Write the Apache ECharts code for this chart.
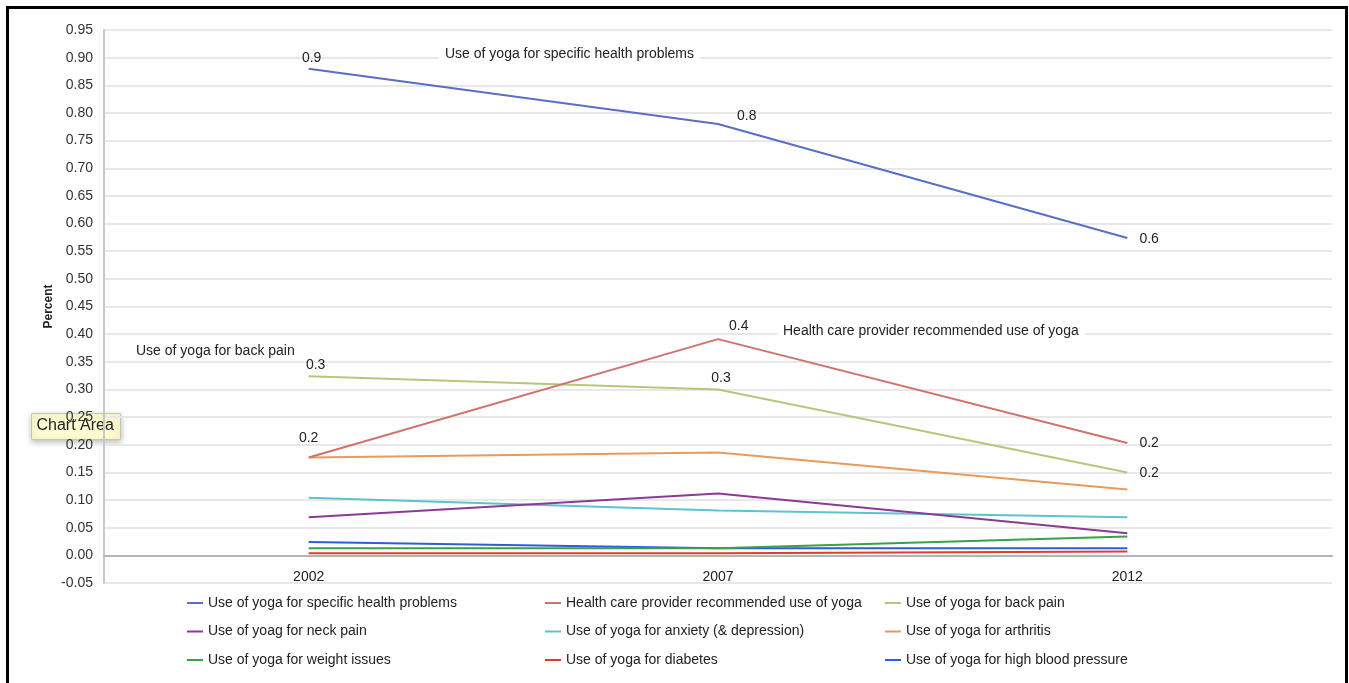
<!DOCTYPE html>
<html>
<head>
<meta charset="utf-8">
<script src="https://cdn.jsdelivr.net/npm/echarts@6/dist/echarts.min.js"></script>
<style>
  html, body { margin: 0; padding: 0; background: #fff; }
  #main { width: 1349px; height: 683px; }
</style>
</head>
<body>
<div id="main"></div>
<script>
// years on the x axis
var years = ['2002', '2007', '2012'];

// series names (legend order, as in the source)
var names = [
  'Use of yoga for specific health problems',
  'Health care provider recommended use of yoga',
  'Use of yoga for back pain',
  'Use of yoag for neck pain',
  'Use of yoga for anxiety (& depression)',
  'Use of yoga for arthritis',
  'Use of yoga for weight issues',
  'Use of yoga for diabetes',
  'Use of yoga for high blood pressure'
];

// values
var specificHealth = [0.88, 0.78, 0.574];
var providerRecommended = [0.177, 0.391, 0.203];
var backPain = [0.324, 0.30, 0.15];
var neckPain = [0.069, 0.112, 0.040];
var anxiety = [0.104, 0.081, 0.069];
var arthritis = [0.177, 0.186, 0.119];
var weightIssues = [0.013, 0.013, 0.034];
var diabetes = [0.004, 0.004, 0.007];
var highBloodPressure = [0.024, 0.013, 0.013];

var values = [specificHealth, providerRecommended, backPain, neckPain, anxiety,
  arthritis, weightIssues, diabetes, highBloodPressure];

var colors = ['#5a6ec8', '#d0726d', '#b3c97a', '#8b3a96', '#5cc3d0',
  '#e89a5c', '#3aa04a', '#e63a2e', '#2b5fd9'];

// data label placement for the three labelled series: [position, dx, dy, distance]
var labelPos = {
  0: [['top', 3, 0, 4], ['right', 0, -8, 19], ['right', 0, 1, 12]],
  1: [['top', 0, 0, 12], ['right', 0, -13, 11], ['right', 0, 0, 12]],
  2: [['top', 7, 0, 4], ['top', 3, 0, 4], ['right', 0, 1, 12]]
};

var FONT = 'Liberation Sans, Arial, sans-serif';

function fmt1(v) {
  return (Math.round(v * 10) / 10).toFixed(1);
}

var series = names.map(function (n, i) {
  var data = values[i].map(function (v, j) {
    var item = { value: v };
    if (labelPos[i]) {
      var p = labelPos[i][j];
      item.label = {
        show: true,
        position: p[0],
        offset: [p[1], p[2]],
        distance: p[3],
        formatter: function (params) { return fmt1(params.value); },
        color: '#222',
        fontSize: 14,
        fontFamily: FONT
      };
    }
    return item;
  });
  return {
    name: n,
    type: 'line',
    data: data,
    symbol: 'circle',
    symbolSize: 0.1,
    showSymbol: true,
    lineStyle: { width: 2, color: colors[i] },
    itemStyle: { color: colors[i] },
    z: 10 - i
  };
});

function legendCol(idx, left) {
  return {
    orient: 'vertical',
    left: left,
    top: 595,
    padding: 0,
    data: idx.map(function (k) { return names[k]; }),
    icon: 'rect',
    itemWidth: 16,
    itemHeight: 2,
    itemGap: 12.5,
    selectedMode: false,
    textStyle: { fontSize: 14, fontFamily: FONT, color: '#222', lineHeight: 16 }
  };
}

function note(text, x, y) {
  return {
    type: 'text',
    left: x,
    top: y,
    z: 50,
    style: {
      text: text,
      font: '14px ' + FONT,
      fill: '#222',
      backgroundColor: '#fff',
      padding: [2, 6, 2, 6]
    }
  };
}

var chart = echarts.init(document.getElementById('main'));
chart.setOption({
  animation: false,
  backgroundColor: '#fff',
  color: colors,
  grid: { left: 104, right: 17, top: 30, bottom: 100 },
  xAxis: {
    type: 'category',
    data: years,
    boundaryGap: true,
    axisLine: { onZero: true, lineStyle: { color: '#b4b4b4', width: 2 } },
    axisTick: { show: false },
    axisLabel: { fontSize: 14, fontFamily: FONT, color: '#222', margin: -13 }
  },
  yAxis: {
    type: 'value',
    min: -0.05,
    max: 0.95,
    interval: 0.05,
    name: 'Percent',
    nameLocation: 'middle',
    nameGap: 49,
    nameMoveOverlap: false,
    nameTextStyle: { fontSize: 12, fontWeight: 'bold', fontFamily: FONT, color: '#222' },
    axisLine: { show: true, lineStyle: { color: '#c8c8c8', width: 2 } },
    axisTick: { show: false },
    axisLabel: {
      fontSize: 14, fontFamily: FONT, color: '#333', margin: 11,
      formatter: function (v) { return v.toFixed(2); }
    },
    splitLine: { lineStyle: { color: '#e8e8e8', width: 2 } }
  },
  legend: [
    legendCol([0, 3, 6], 187),
    legendCol([1, 4, 7], 545),
    legendCol([2, 5, 8], 885)
  ],
  series: series,
  graphic: [
    note('Use of yoga for specific health problems', 439, 45),
    note('Use of yoga for back pain', 130, 342),
    note('Health care provider recommended use of yoga', 777, 322),
    {
      type: 'group',
      left: 31,
      top: 413,
      z: 100,
      children: [
        {
          type: 'rect',
          shape: { x: 0, y: 0, width: 89, height: 26 },
          style: {
            fill: '#fdfbd0', stroke: '#c9c6a6', lineWidth: 1,
            shadowBlur: 6, shadowColor: 'rgba(0,0,0,0.25)', shadowOffsetY: 2
          }
        },
        {
          type: 'text',
          x: 5,
          y: 4,
          style: { text: 'Chart Area', font: '16px ' + FONT, fill: '#222' }
        }
      ]
    },
    // black frame of the screenshot
    { type: 'rect', z: 200, shape: { x: 6, y: 6, width: 3, height: 677 }, style: { fill: '#000' } },
    { type: 'rect', z: 200, shape: { x: 6, y: 6, width: 1342, height: 3 }, style: { fill: '#000' } },
    { type: 'rect', z: 200, shape: { x: 1345, y: 6, width: 3, height: 677 }, style: { fill: '#000' } }
  ]
});
</script>
</body>
</html>
